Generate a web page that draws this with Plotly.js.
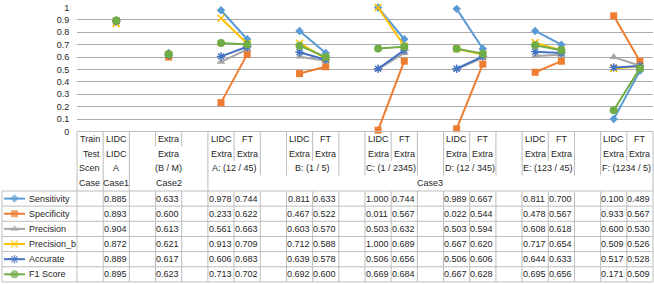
<!DOCTYPE html>
<html><head><meta charset="utf-8">
<script src="https://cdn.plot.ly/plotly-3.0.1.min.js"></script>
<style>html,body{margin:0;padding:0;background:#fff}#chart{width:654px;height:284px}</style>
</head><body><div id="chart"></div>
<script>
// ---- category table (x axis labels, 4 levels) ----
const level1 = ['Train','LIDC','','Extra','','LIDC','FT','','LIDC','FT','','LIDC','FT','','LIDC','FT','','LIDC','FT','','LIDC','FT'];
const level2 = ['Test','LIDC','','Extra','','Extra','Extra','','Extra','Extra','','Extra','Extra','','Extra','Extra','','Extra','Extra','','Extra','Extra'];
const level3Labels = ['Scen','A','(B / M)','A: (12 / 45)','B: (1 / 5)','C: (1 / 2345)','D: (12 / 345)','E: (123 / 45)','F: (1234 / 5)'];
const level3Pos = [0,1,3,5.5,8.5,11.5,14.5,17.5,20.5];
const level4Labels = ['Case','Case1','Case2','Case3'];
const level4Pos = [0,1,3,13];
const categoryCount = 22;
const dataCols = [1,3,5,6,8,9,11,12,14,15,17,18,20,21];

// ---- series (Case1, Case2, A LIDC, A FT, B LIDC, B FT, C.., D.., E.., F..) ----
const seriesNames = ['Sensitivity','Specificity','Precision','Precision_b','Accurate','F1 Score'];
const sensitivity = [0.885,0.633,0.978,0.744,0.811,0.633,1.000,0.744,0.989,0.667,0.811,0.700,0.100,0.489];
const specificity = [0.893,0.600,0.233,0.622,0.467,0.522,0.011,0.567,0.022,0.544,0.478,0.567,0.933,0.567];
const precision   = [0.904,0.613,0.561,0.663,0.603,0.570,0.503,0.632,0.503,0.594,0.608,0.618,0.600,0.530];
const precisionB  = [0.872,0.621,0.913,0.709,0.712,0.588,1.000,0.689,0.667,0.620,0.717,0.654,0.509,0.526];
const accurate    = [0.889,0.617,0.606,0.683,0.639,0.578,0.506,0.656,0.506,0.606,0.644,0.633,0.517,0.528];
const f1Score     = [0.895,0.623,0.713,0.702,0.692,0.600,0.669,0.684,0.667,0.628,0.695,0.656,0.171,0.509];
const seriesValues = [sensitivity,specificity,precision,precisionB,accurate,f1Score];

// ---- styles ----
const styles = [
  {color:'#5B9BD5', symbol:'diamond', size:6.5, lw:0},
  {color:'#ED7D31', symbol:'square', size:7, lw:0},
  {color:'#A5A5A5', symbol:'triangle-up', size:7.5, lw:0},
  {color:'#FFC000', symbol:'x-thin-open', size:7, lw:1.6},
  {color:'#4472C4', symbol:'asterisk-open', size:7, lw:1.4},
  {color:'#70AD47', symbol:'circle', size:8, lw:0}
];
const W = 654, H = 284;
const X0 = 77, X1 = 653, YT = 7.5, YB = 131.5;
const LC = '#bdbdbd', GC = '#aaaaaa', TXT = '#262626';
const FONT = 'Liberation Sans, Arial, sans-serif';
const hdrB = [131.5, 146.5, 161, 175.5, 191];
const rowH = 15.15;
const dataTop = 191;
const colW = (X1 - X0) / categoryCount;
const pyp = px => 1 - px / H;
const bxp = k => (X0 + k * colW) / W;

const xIdx = Array.from({length: categoryCount}, (_, i) => i);
function spread(vals){ const y = new Array(categoryCount).fill(null); vals.forEach((v,i)=>{ y[dataCols[i]] = v; }); return y; }

const traces = [];
seriesNames.forEach((name, s) => {
  const st = styles[s];
  traces.push({
    type:'scatter', mode:'lines+markers', name:name, x:xIdx, y:spread(seriesValues[s]),
    connectgaps:false, cliponaxis:false,
    line:{color:st.color, width:2},
    marker:{symbol:st.symbol, size:st.size, color:st.color, line:{color:st.color, width:st.lw}},
    hoverinfo:'skip'
  });
});
// legend keys inside the data table (overlay pixel axes)
seriesNames.forEach((name, s) => {
  const st = styles[s];
  const yc = dataTop + rowH * (s + 0.5);
  traces.push({
    type:'scatter', mode:'lines+markers', xaxis:'x2', yaxis:'y2', x:[4,14.5,25], y:[yc,yc,yc],
    line:{color:st.color, width:2},
    marker:{symbol:st.symbol, size:[0,st.size,0], color:st.color, line:{color:st.color, width:st.lw}},
    hoverinfo:'skip', showlegend:false
  });
});

const shapes = [];
function hline(x0px, x1px, ypx){ shapes.push({type:'line', xref:'paper', yref:'paper', x0:x0px/W, x1:x1px/W, y0:pyp(ypx), y1:pyp(ypx), line:{color:LC, width:1}}); }
function vline(k, y0px, y1px){ shapes.push({type:'line', xref:'paper', yref:'paper', x0:bxp(k), x1:bxp(k), y0:pyp(y0px), y1:pyp(y1px), line:{color:LC, width:1}}); }
// top (axis) line
hline(X0, X1, YB);
// header vertical lines
for (let k = 0; k <= categoryCount; k++) {
  let depth;
  if (k <= 2 || k === 5 || k === categoryCount) depth = 4;
  else if (k === 3 || k === 4) depth = 1;
  else { const r = (k - 5) % 3; depth = (r === 1) ? 2 : 3; }
  vline(k, hdrB[0], hdrB[depth]);
}
// data rows
for (let r = 0; r <= seriesNames.length; r++) hline(2, X1, dataTop + r * rowH);
const dataBottom = dataTop + rowH * seriesNames.length;
shapes.push({type:'line', xref:'paper', yref:'paper', x0:2/W, x1:2/W, y0:pyp(dataTop), y1:pyp(dataBottom), line:{color:LC, width:1}});
for (let k = 0; k <= categoryCount; k++) vline(k, dataTop, dataBottom);

const annotations = [];
function txt(x, ypx, text, opts){
  annotations.push(Object.assign({xref:'x', yref:'paper', x:x, y:pyp(ypx), text:text, showarrow:false,
    xanchor:'center', yanchor:'middle', font:{family:FONT, size:9, color:TXT}}, opts||{}));
}
const hdrC = [139, 153.8, 168.3, 183];
level1.forEach((t, i) => { if (t) txt(i === 0 ? 0.5 : i, hdrC[0], t, i === 0 ? {xanchor:'right', xshift:-1.5} : {}); });
level2.forEach((t, i) => { if (t) txt(i === 0 ? 0.5 : i, hdrC[1], t, i === 0 ? {xanchor:'right', xshift:-1.5} : {}); });
level3Labels.forEach((t, i) => txt(i === 0 ? 0.5 : level3Pos[i], hdrC[2], t, i === 0 ? {xanchor:'right', xshift:-1.5} : {}));
level4Labels.forEach((t, i) => txt(i === 0 ? 0.5 : level4Pos[i], hdrC[3], t, i === 0 ? {xanchor:'right', xshift:-1.5} : {}));
seriesNames.forEach((name, s) => {
  const yc = dataTop + rowH * (s + 0.5);
  annotations.push({xref:'paper', yref:'paper', x:27/W, y:pyp(yc), text:name, showarrow:false, xanchor:'left', yanchor:'middle', font:{family:FONT, size:9, color:TXT}});
  seriesValues[s].forEach((v, i) => txt(dataCols[i], yc, v.toFixed(3), {xshift:-1}));
});

const layout = {
  width:W, height:H, margin:{l:0, r:0, t:0, b:0},
  paper_bgcolor:'#ffffff', plot_bgcolor:'rgba(0,0,0,0)', showlegend:false,
  font:{family:FONT, size:9, color:TXT},
  xaxis:{domain:[X0/W, X1/W], range:[-0.5, 21.5], showgrid:false, zeroline:false, showticklabels:false, showline:false, ticks:'', fixedrange:true},
  yaxis:{domain:[1-YB/H, 1-YT/H], range:[0,1], tick0:0, dtick:0.1, showgrid:true, gridcolor:GC, gridwidth:1,
         zeroline:false, showline:false, ticks:'outside', ticklen:5, tickcolor:'rgba(0,0,0,0)',
         tickfont:{family:FONT, size:9, color:TXT}, fixedrange:true},
  xaxis2:{domain:[0,1], range:[0,W], visible:false, anchor:'y2', fixedrange:true},
  yaxis2:{domain:[0,1], range:[H,0], visible:false, anchor:'x2', fixedrange:true},
  shapes:shapes, annotations:annotations
};
Plotly.newPlot('chart', traces, layout, {staticPlot:true, displayModeBar:false});
</script></body></html>
